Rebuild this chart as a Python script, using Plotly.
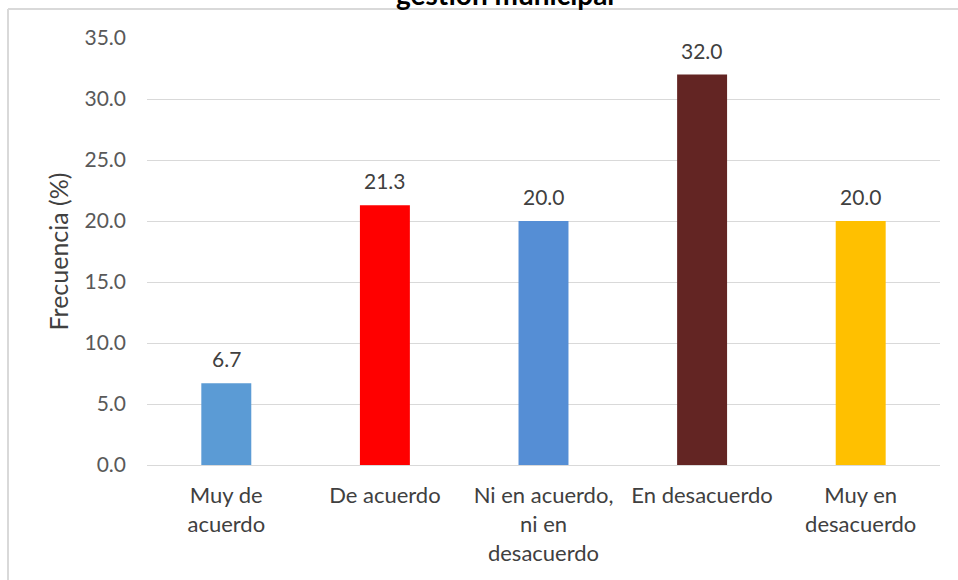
import plotly.graph_objects as go

# Survey responses on the municipal management question
categorias = ["Muy de<br>acuerdo", "De acuerdo", "Ni en acuerdo,<br>ni en<br>desacuerdo",
              "En desacuerdo", "Muy en<br>desacuerdo"]
frecuencia = [6.7, 21.3, 20.0, 32.0, 20.0]
colores = ["#5B9BD5", "#FF0000", "#558ED5", "#632523", "#FFC000"]
ticks_y = [0, 5, 10, 15, 20, 25, 30, 35]

W, H = 958, 580
L, R, T, B = 147, 18, 38, 115
FONT = "Lato"

fig = go.Figure()
fig.add_trace(go.Bar(
    x=categorias, y=frecuencia,
    marker=dict(color=colores, line=dict(width=0)),
    hoverinfo="x+y",
))

# value labels over each bar
for c, v in zip(categorias, frecuencia):
    fig.add_annotation(x=c, y=v, text=f"{v:.1f}", showarrow=False,
                       yanchor="bottom", yshift=10,
                       font=dict(family=FONT, size=21, color="#404040"))

pw = W - L - R
ph = H - T - B

def px_x(p):
    return (p - L) / pw

def px_y(p):
    return (H - B - p) / ph

# last line of the chart title, partly outside the frame
fig.add_annotation(xref="paper", yref="paper", x=px_x(505), y=px_y(13),
                   xanchor="center", yanchor="bottom", showarrow=False,
                   text="<b>gestión municipal</b>",
                   font=dict(family=FONT, size=28, color="#000000"))

# light frame around the chart
frame = dict(color="#D9D9D9", width=2)
fig.add_shape(type="line", xref="paper", yref="paper",
              x0=px_x(8), x1=px_x(W + 5), y0=px_y(9), y1=px_y(9), line=frame)
fig.add_shape(type="line", xref="paper", yref="paper",
              x0=px_x(8), x1=px_x(8), y0=px_y(9), y1=px_y(H + 5), line=frame)

fig.update_layout(
    width=W, height=H,
    margin=dict(l=L, r=R, t=T, b=B, pad=0),
    paper_bgcolor="white", plot_bgcolor="white",
    bargap=0.685,
    showlegend=False,
    font=dict(family=FONT, color="#595959"),
    xaxis=dict(
        showline=True, linecolor="#D9D9D9", linewidth=1,
        showgrid=False, ticks="", ticklabelstandoff=11,
        tickfont=dict(family=FONT, size=22, color="#404040"),
    ),
    yaxis=dict(
        range=[0, 35], tickvals=ticks_y,
        ticktext=[f"{t:.1f}" for t in ticks_y],
        showgrid=True, gridcolor="#D9D9D9", gridwidth=1,
        zeroline=False, showline=False, ticks="",
        ticklabelstandoff=20,
        tickfont=dict(family=FONT, size=21, color="#595959"),
        title=dict(text="Frecuencia (%)", standoff=8,
                   font=dict(family=FONT, size=25, color="#404040")),
    ),
)

fig.write_html("out.html")
